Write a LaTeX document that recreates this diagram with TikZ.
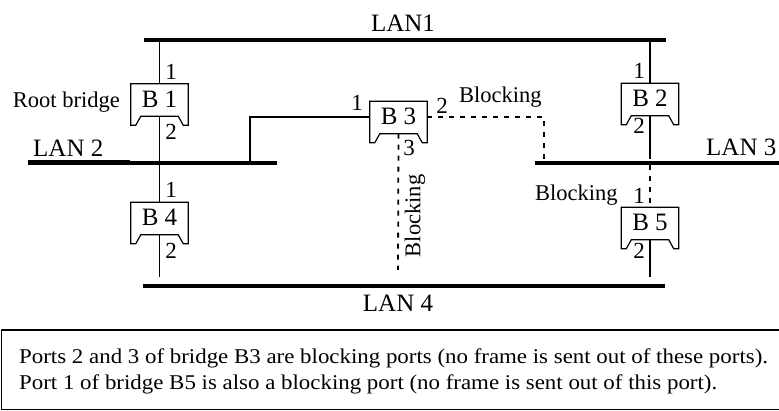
\documentclass[tikz,border=0pt]{standalone}
\usepackage{fontspec}
\setmainfont{Liberation Serif}
\newfontfamily\notefont{Liberation Serif}[FakeStretch=1.09]
\usetikzlibrary{calc}

\tikzset{
  lan/.style={line width=3.5pt},
  port/.style={line width=1.6pt},
  blocked/.style={line width=1.8pt,dash pattern=on 5pt off 6pt},
  bridge/.style={minimum width=57pt,minimum height=41pt,inner sep=0pt,text depth=11pt,
    font=\fontsize{25}{25}\selectfont},
  portno/.style={inner sep=0pt,font=\fontsize{23}{23}\selectfont},
  lanname/.style={inner sep=0pt,anchor=base,font=\fontsize{25}{25}\selectfont},
  tag/.style={inner sep=0pt,font=\fontsize{22.5}{22.5}\selectfont},
  note/.style={inner sep=0pt,anchor=base west,font=\notefont\fontsize{21}{21}\selectfont}
}

% outline of a bridge: box with a notch in the bottom edge
\newcommand{\bridgeshape}[1]{%
  \draw[line width=1.2pt] (#1.south west) -- (#1.north west) -- (#1.north east) -- (#1.south east)
    -- ([xshift=-5pt]#1.south east) -- ([xshift=-10pt,yshift=9pt]#1.south east)
    -- ([xshift=10pt,yshift=9pt]#1.south west) -- ([xshift=5pt]#1.south west) -- cycle;}

\begin{document}
\begin{tikzpicture}[x=1pt,y=-1pt]
\path[use as bounding box] (0,0) rectangle (779,411);

% LANs
\coordinate (lan1w) at (144,40);
\coordinate (lan1e) at (666,40);
\coordinate (lan2w) at (28,163);
\coordinate (lan2m) at (130,163);
\coordinate (lan2e) at (277,163);
\coordinate (lan3w) at (535,163);
\coordinate (lan3m) at (677,163);
\coordinate (lan3e) at (781,163);
\coordinate (lan4w) at (143,286);
\coordinate (lan4e) at (665,286);
\draw[lan] (lan1w) -- (lan1e);
\draw[lan,line width=5pt] (lan2w) -- (lan2m);
\draw[lan] (lan2m) -- (lan2e);
\draw[lan] (lan3w) -- (lan3m);
\draw[lan,line width=4.5pt] (lan3m) -- (lan3e);
\draw[lan] (lan4w) -- (lan4e);
\node[lanname] (lan1) at (403,32) {LAN1};
\node[lanname,anchor=base west] (lan2) at (33,157) {LAN 2};
\node[lanname,anchor=base west] (lan3) at (706,156) {LAN 3};
\node[lanname] (lan4) at (398,312) {LAN 4};

% bridges
\node[bridge] (b1) at (159.5,104.5) {B 1};
\node[bridge] (b4) at (159.5,223) {B 4};
\node[bridge] (b3) at (398.5,122) {B 3};
\node[bridge] (b2) at (650,104) {B 2};
\node[bridge] (b5) at (650,228) {B 5};
\foreach \b in {b1,b2,b3,b4,b5} {\bridgeshape{\b}}

% ports
\draw[port] (b1.north) -- (b1.north |- lan1w);
\draw[port] ([yshift=9pt]b1.south) -- (b4.north);
\draw[port] ([yshift=9pt]b4.south) -- ([yshift=9pt]b4.south |- lan4w);
\coordinate (tap2) at (250,163);
\coordinate (tap3) at (544,163);
\coordinate (b3end) at (398,270);
\draw[port] ([yshift=5pt]b3.west) -| (tap2);
\draw[blocked] ([yshift=5pt]b3.east) -| (tap3);
\draw[blocked] ([yshift=9pt]b3.south) -- (b3end);
\draw[port] (b2.north) -- (b2.north |- lan1e);
\draw[port] ([yshift=9pt]b2.south) -- ([yshift=9pt]b2.south |- lan3w);
\draw[blocked] ([yshift=9pt]b2.south |- lan3w) -- (b5.north);
\draw[port] ([yshift=9pt]b5.south) -- ([yshift=9pt]b5.south |- lan4e);

% port numbers
\node[portno] (b1p1) at (171,72) {1};
\node[portno] (b1p2) at (171,132) {2};
\node[portno] (b4p1) at (171,190) {1};
\node[portno] (b4p2) at (171,251) {2};
\node[portno] (b3p1) at (357,103) {1};
\node[portno] (b3p2) at (442,106) {2};
\node[portno] (b3p3) at (409,148) {3};
\node[portno] (b2p1) at (639,71) {1};
\node[portno] (b2p2) at (639,126) {2};
\node[portno] (b5p1) at (639,196) {1};
\node[portno] (b5p2) at (639,251) {2};

% labels
\node[tag,anchor=base east] (root) at (120,108) {Root bridge};
\node[tag,anchor=base west] (blk2) at (459,103) {Blocking};
\node[tag,anchor=base west] (blk5) at (535,201) {Blocking};
\node[tag,rotate=90] (blk3) at (415,216) {Blocking};

% note
\draw[line width=1.6pt] (1.5,330) rectangle (782,409.5);
\node[note] (note1) at (19,363) {Ports 2 and 3 of bridge B3 are blocking ports (no frame is sent out of these ports).};
\node[note] (note2) at (19,390) {Port 1 of bridge B5 is also a blocking port (no frame is sent out of this port).};
\end{tikzpicture}
\end{document}
